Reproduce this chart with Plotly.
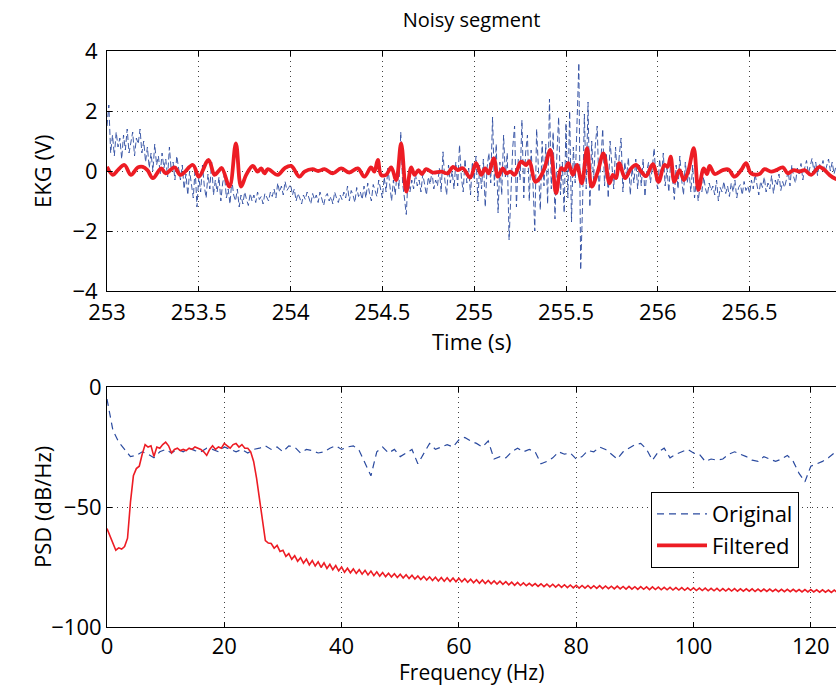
import numpy as np
import plotly.graph_objects as go

# ---------------- data: top panel (EKG, noisy segment) ----------------
# Original signal, one value every 0.01 s, one list per second
ekg_253 = [1.5, 2.2, 0.6, 1.2, 0.5, 1.3, 0.8, 1.1, 0.4, 1.2,
           0.7, 1.4, 0.6, 1.0, 1.3, 0.5, 1.1, 0.9, 1.4, 0.6,
           1.0, 0.3, 0.8, 0.1, 0.6, 0.0, 0.9, 0.2, 0.5, -0.1,
           0.6, 0.1, 0.4, -0.2, 0.8, 0.0, 0.3, -0.3, 0.5, 0.1,
           -0.3, 0.2, -0.6, -0.1, -0.8, 0.0, -0.4, -0.9, 0.1, -1.2,
           -0.2, -0.7, 0.2, -0.5, -0.9, -0.1, -0.6, 0.3, -0.8, -0.3,
           -0.7, -0.2, -1.0, -0.4, -0.1, -0.9, -0.6, -1.1, -0.3, -0.8,
           -1.0, -0.6, -1.2, -0.8, -1.1, -0.7, -0.95, -1.15, -0.75, -1.0,
           -0.8, -1.05, -0.7, -0.95, -0.85, -1.1, -0.75, -0.9, -1.0, -0.7,
           -0.85, -0.6, -0.9, -0.4, -0.7, -0.5, -0.8, -0.35, -0.65, -0.55]
ekg_254 = [-0.45, -0.8, -0.6, -1.0, -0.75, -0.9, -1.1, -0.8, -0.95, -0.7,
           -0.9, -1.1, -0.75, -0.95, -0.8, -1.05, -0.7, -0.9, -1.15, -0.85,
           -0.75, -1.0, -0.85, -1.1, -0.7, -0.9, -1.05, -0.8, -0.95, -0.7,
           -0.9, -0.5, -1.0, -0.65, -0.8, -1.05, -0.55, -0.85, -0.7, -0.95,
           -0.5, -0.9, -0.4, -0.75, -1.0, -0.45, -0.7, -0.85, -0.3, -0.6,
           -0.9, -0.2, -0.7, 0.1, -0.5, -1.0, -0.3, -0.8, 0.0, -0.6,
           1.3, -0.4, -0.9, -1.45, -0.2, -0.7, -0.3, -0.6, -0.1, -0.5,
           -0.3, -0.7, -0.1, -0.5, -0.8, -0.2, -0.45, 0.0, -0.6, -0.3,
           -0.5, 0.1, -0.7, 0.64, -0.3, -0.8, 0.2, -0.4, 0.0, -0.6,
           0.3, -0.5, 0.87, -0.2, -0.7, 0.4, -0.4, 0.1, -0.8, 0.3]
ekg_255 = [-0.3, 0.5, -1.0, 0.2, -0.6, 0.4, -1.2, 0.1, 0.6, -0.4,
           1.8, -0.5, 0.9, -1.4, 0.3, -0.8, 1.2, -0.2, 0.6, -2.3,
           -0.6, 0.8, 1.5, -1.2, 0.4, -0.3, 1.7, -0.9, 0.6, 1.2,
           -1.0, 0.7, -0.4, -2.0, 1.4, 0.2, -1.3, 1.0, -0.5, 0.9,
           -1.1, 2.4, -0.6, 1.3, -1.6, 0.5, 1.8, -0.8, 0.3, -1.4,
           1.6, -0.9, 2.0, -1.7, 0.8, -0.4, 1.5, 3.6, -3.3, -1.2,
           1.9, -0.6, 2.3, -1.2, 1.0, -0.3, 0.9, 1.5, -0.7, 0.4,
           1.4, -0.5, 0.6, -0.9, 1.0, 0.2, -0.6, 0.8, -0.3, 0.5,
           1.1, -0.7, 0.3, -0.2, 0.45, -0.8, 0.1, -0.4, 0.4, -0.6,
           0.2, -0.5, 0.4, -0.85, 0.0, 0.3, -0.4, 0.1, 0.76, -0.3]
ekg_256 = [-0.6, 0.4, -0.2, 0.6, -0.5, 0.1, -0.7, 0.3, -0.2, -0.95,
           0.2, -0.6, 0.5, -0.3, -0.8, 0.3, -0.4, 0.0, -0.7, 0.2,
           -0.9, -0.3, -1.0, -0.5, -0.7, -0.2, -0.6, -0.8, -0.4, -0.65,
           -0.5, -0.8, -0.3, -1.0, -0.55, -0.7, -0.35, -0.75, -0.5, -0.85,
           -0.4, -0.7, -0.3, -0.9, -0.55, -0.45, -0.8, -0.35, -0.65, -0.5,
           -0.75, -0.3, -0.6, -0.1, -0.5, -0.8, -0.35, -0.55, -0.2, -0.7,
           -0.4, -0.6, -0.15, -0.75, -0.3, -0.5, -0.1, -0.65, -0.35, -0.55,
           -0.3, 0.0, -0.5, 0.2, -0.2, -0.4, 0.1, -0.1, 0.25, -0.3,
           0.1, 0.35, -0.1, 0.2, 0.42, 0.0, 0.3, -0.15, 0.25, 0.1,
           0.35, -0.05, 0.2, 0.4, 0.0, 0.3, -0.1, 0.15, 0.05, -0.2]
ekg_start = 253.0
ekg_step = 0.01

# Filtered signal (time in s, value in V)
filt_t = [253.000, 253.032, 253.059, 253.095, 253.130, 253.168, 253.195, 253.220,
          253.250, 253.295, 253.320, 253.368, 253.400, 253.468, 253.500, 253.553,
          253.585, 253.605, 253.625, 253.667, 253.702, 253.730, 253.758, 253.794,
          253.820, 253.840, 253.858, 253.876, 253.930, 253.967, 254.003, 254.048,
          254.076, 254.120, 254.150, 254.185, 254.230, 254.275, 254.320, 254.366,
          254.402, 254.438, 254.456, 254.475, 254.493, 254.520, 254.548, 254.575,
          254.602, 254.630, 254.657, 254.675, 254.696, 254.715, 254.738, 254.775,
          254.820, 254.856, 254.884, 254.910, 254.938, 254.978, 255.010, 255.038,
          255.060, 255.078, 255.107, 255.129, 255.156, 255.175, 255.197, 255.220,
          255.256, 255.283, 255.301, 255.332, 255.355, 255.383, 255.415, 255.446,
          255.473, 255.492, 255.513, 255.537, 255.560, 255.586, 255.615, 255.640,
          255.673, 255.704, 255.737, 255.755, 255.772, 255.790, 255.822, 255.855,
          255.882, 255.910, 255.936, 255.973, 256.004, 256.036, 256.054, 256.070,
          256.090, 256.118, 256.142, 256.166, 256.196, 256.221, 256.250, 256.268,
          256.282, 256.310, 256.354, 256.385, 256.418, 256.454, 256.481, 256.508,
          256.554, 256.581, 256.617, 256.645, 256.681, 256.708, 256.740, 256.772,
          256.800, 256.835, 256.880, 256.908, 256.935, 256.962, 256.990]
filt_v = [0.14, -0.13, 0.03, 0.20, -0.13, 0.12, 0.14, 0.03,
          -0.24, 0.09, -0.08, 0.12, -0.13, 0.20, -0.19, 0.37,
          -0.13, -0.02, 0.10, -0.52, 0.92, -0.52, -0.13, 0.17,
          -0.02, 0.09, -0.08, 0.06, -0.13, 0.09, 0.17, -0.19,
          -0.02, 0.06, 0.00, 0.06, -0.08, 0.09, -0.05, 0.09,
          -0.19, 0.12, -0.02, 0.37, -0.13, -0.13, 0.12, -0.30,
          0.92, -0.69, 0.12, -0.13, 0.03, -0.10, 0.06, -0.05,
          -0.02, -0.08, 0.14, 0.03, 0.09, -0.22, 0.26, -0.13,
          0.09, -0.08, 0.42, -0.19, 0.09, -0.08, -0.02, -0.13,
          0.31, 0.20, 0.33, -0.36, -0.25, 0.09, 0.70, -0.74,
          0.09, 0.03, 0.26, -0.13, 0.20, -0.41, 0.76, -0.52,
          -0.02, 0.59, -0.41, -0.13, -0.24, 0.26, -0.24, 0.09,
          0.20, -0.02, -0.17, 0.23, -0.36, 0.20, 0.14, 0.48,
          -0.36, 0.03, -0.30, 0.00, 0.76, -0.63, 0.09, -0.10,
          0.17, -0.10, 0.03, 0.05, -0.19, 0.03, 0.26, -0.08,
          -0.10, 0.06, -0.02, 0.03, 0.12, -0.08, 0.03, -0.02,
          0.03, -0.13, 0.14, 0.03, -0.13, -0.24, -0.30]

time_ticks = [253, 253.5, 254, 254.5, 255, 255.5, 256, 256.5, 257]
ekg_ticks = [-4, -2, 0, 2, 4]

# ---------------- data: bottom panel (PSD) ----------------
# Original PSD, one value per 1 Hz from 0 to 125 Hz
psd_orig = [-5, -18, -23, -26, -29, -28.5, -27, -28, -29.5, -27,
            -26, -27.5, -26, -27, -25.5, -26.5, -27, -25.5, -26, -27,
            -25, -26, -27, -26, -27.5, -26, -25.5, -24.5, -26, -25,
            -27, -24.5, -25, -27.5, -26, -26.5, -27.5, -27, -25.5, -24.5,
            -26, -25, -24.5, -26.5, -32, -37, -27, -25, -27.5, -26,
            -29, -27.5, -26, -32, -28, -23.5, -26, -25, -24, -25,
            -22, -21, -22.5, -23.5, -25, -22.5, -30, -29, -29.5, -27,
            -25.5, -27, -26, -27, -32, -31, -29.5, -27, -28, -27.5,
            -30, -29, -26.5, -27, -25, -26, -28, -30, -27, -25.5,
            -24, -23.5, -26, -30.5, -27, -25.5, -29.5, -28, -27, -26,
            -27.5, -28, -31, -30, -30.5, -30, -28, -27, -28, -29,
            -30.5, -31, -29, -30, -31, -30, -28.5, -31, -36, -39.5,
            -33, -32, -31, -29.5, -27.5, -28]
psd_orig_f0 = 0.0
psd_orig_df = 1.0

# Filtered PSD, one value per 0.5 Hz: 0-27 Hz and 27.5-125 Hz
psd_filt_low = [-59, -62, -65, -68, -67, -67.5, -66.5, -63, -48, -37,
                -34, -33, -28, -24, -25, -24.5, -29, -25, -25.5, -24,
                -23, -24.5, -27.5, -26, -25.5, -26.5, -26, -26.5, -25.5, -26,
                -25, -25.5, -26, -27, -28.5, -26, -24.5, -26, -25, -25.5,
                -23.5, -24.5, -25.5, -24, -23.5, -25, -24, -25.5, -25.5, -27,
                -31, -38, -46, -56, -64]
psd_filt_high = [-65.0,
                 -65.2, -67.2, -66.0, -68.5, -68.0, -70.6, -69.4, -71.8, -70.3, -72.6,
                 -71.1, -73.4, -71.7, -74.1, -72.3, -74.6, -72.8, -75.2, -73.3, -75.6,
                 -73.9, -76.1, -74.4, -76.6, -75.0, -77.2, -75.5, -77.4, -75.8, -77.7,
                 -76.1, -78.0, -76.4, -78.3, -76.7, -78.6, -77.0, -78.8, -77.3, -79.0,
                 -77.6, -79.2, -77.8, -79.4, -78.0, -79.6, -78.2, -79.8, -78.4, -80.0,
                 -78.7, -80.2, -78.9, -80.4, -79.1, -80.6, -79.3, -80.8, -79.4, -80.9,
                 -79.5, -81.0, -79.6, -81.1, -79.7, -81.2, -79.9, -81.4, -80.1, -81.6,
                 -80.3, -81.8, -80.4, -81.9, -80.6, -82.0, -80.8, -82.1, -80.9, -82.2,
                 -81.1, -82.4, -81.3, -82.6, -81.4, -82.7, -81.6, -82.8, -81.8, -82.9,
                 -81.9, -83.1, -82.0, -83.2, -82.1, -83.3, -82.2, -83.4, -82.3, -83.5,
                 -82.4, -83.6, -82.5, -83.7, -82.6, -83.8, -82.7, -83.8, -82.7, -83.9,
                 -82.8, -83.9, -82.8, -84.0, -82.9, -84.0, -83.0, -84.1, -83.0, -84.1,
                 -83.1, -84.2, -83.1, -84.2, -83.2, -84.3, -83.2, -84.3, -83.3, -84.4,
                 -83.3, -84.4, -83.4, -84.5, -83.5, -84.5, -83.5, -84.6, -83.6, -84.6,
                 -83.6, -84.7, -83.7, -84.7, -83.7, -84.8, -83.8, -84.8, -83.8, -84.9,
                 -83.9, -84.9, -83.9, -85.0, -84.0, -85.0, -84.0, -85.0, -84.0, -85.1,
                 -84.1, -85.1, -84.1, -85.1, -84.1, -85.2, -84.2, -85.2, -84.2, -85.2,
                 -84.2, -85.2, -84.3, -85.3, -84.3, -85.3, -84.3, -85.3, -84.3, -85.3,
                 -84.4, -85.4, -84.4, -85.4, -84.4, -85.4, -84.5, -85.5, -84.5, -85.5,
                 -84.6, -85.6, -84.6, -85.6, -84.7]
psd_filt_low_f0 = 0.0
psd_filt_high_f0 = 27.5
psd_filt_df = 0.5

freq_ticks = [0, 20, 40, 60, 80, 100, 120]
psd_ticks = [-100, -50, 0]

# ---------------- build ----------------
ekg = ekg_253 + ekg_254 + ekg_255 + ekg_256
ekg_t = ekg_start + ekg_step * np.arange(len(ekg))
f_orig = psd_orig_f0 + psd_orig_df * np.arange(len(psd_orig))
f_filt = np.concatenate([psd_filt_low_f0 + psd_filt_df * np.arange(len(psd_filt_low)),
                         psd_filt_high_f0 + psd_filt_df * np.arange(len(psd_filt_high))])
p_filt = psd_filt_low + psd_filt_high

BLUE = "#2a4a9f"
RED = "#ed1c24"
FONT = "Open Sans, Noto Sans, sans-serif"
FS = 22

fig = go.Figure()
fig.add_trace(go.Scatter(x=ekg_t, y=ekg, mode="lines", name="Original",
                         line=dict(color=BLUE, width=0.9, dash="6px,3px"),
                         showlegend=False, xaxis="x", yaxis="y"))
fig.add_trace(go.Scatter(x=filt_t, y=filt_v, mode="lines", name="Filtered",
                         line=dict(color=RED, width=3.8, shape="spline", smoothing=1.0),
                         showlegend=False, xaxis="x", yaxis="y"))
fig.add_trace(go.Scatter(x=f_orig, y=psd_orig, mode="lines", name="Original",
                         line=dict(color=BLUE, width=1.2, dash="7px,5px"),
                         showlegend=False, xaxis="x2", yaxis="y2"))
fig.add_trace(go.Scatter(x=f_filt, y=p_filt, mode="lines", name="Filtered",
                         line=dict(color=RED, width=1.6),
                         showlegend=False, xaxis="x2", yaxis="y2"))
# legend entries
fig.add_trace(go.Scatter(x=[None], y=[None], mode="lines", name="Original",
                         line=dict(color=BLUE, width=1.2, dash="7px,5px"),
                         xaxis="x2", yaxis="y2"))
fig.add_trace(go.Scatter(x=[None], y=[None], mode="lines", name="Filtered",
                         line=dict(color=RED, width=3.6),
                         xaxis="x2", yaxis="y2"))

W, H = 836, 687
L = 107
plot_w = W - L

axis_common = dict(showline=True, linecolor="black", linewidth=1,
                   ticks="inside", ticklen=5, tickcolor="black",
                   showgrid=True, gridcolor="rgba(0,0,0,0.75)", gridwidth=1,
                   griddash="1px,4px", zeroline=False, automargin=False,
                   tickfont=dict(family=FONT, size=FS, color="black"))

top_dom = [1 - 291 / H, 1 - 51 / H]
bot_dom = [1 - 627 / H, 1 - 387 / H]

fig.update_layout(
    width=W, height=H,
    margin=dict(l=L, r=0, t=0, b=0, pad=0, autoexpand=False),
    paper_bgcolor="white", plot_bgcolor="white",
    font=dict(family=FONT, size=FS, color="black"),
    title=dict(text="Noisy segment", x=0.5, xref="paper", y=1 - 20 / H,
               yanchor="middle", xanchor="center", automargin=False,
               font=dict(family=FONT, size=20, color="black")),
    xaxis=dict(domain=[0, 1], anchor="y", range=[253, 253 + plot_w / 183.6],
               tickvals=time_ticks, ticktext=[f"{v:g}" for v in time_ticks],
               mirror="ticks", ticklabelstandoff=2, **axis_common),
    yaxis=dict(domain=top_dom, anchor="x", range=[-4, 4],
               tickvals=ekg_ticks, mirror=False, ticklabelstandoff=4, **axis_common),
    xaxis2=dict(domain=[0, 1], anchor="y2", range=[0, plot_w / 5.865],
                tickvals=freq_ticks, mirror="ticks", **axis_common),
    yaxis2=dict(domain=bot_dom, anchor="x2", range=[-100, 0],
                tickvals=psd_ticks, mirror=False, **axis_common),
    legend=dict(x=(651 - L) / plot_w, y=1 - 492 / H, xanchor="left", yanchor="top",
                bgcolor="white", bordercolor="black", borderwidth=1,
                font=dict(family=FONT, size=FS, color="black"),
                itemwidth=50, tracegroupgap=0),
    annotations=[
        dict(text="EKG (V)", xref="paper", yref="paper", x=(42 - L) / plot_w,
             y=1 - 171 / H, textangle=-90, showarrow=False,
             xanchor="center", yanchor="middle", font=dict(family=FONT, size=FS)),
        dict(text="PSD (dB/Hz)", xref="paper", yref="paper", x=(42 - L) / plot_w,
             y=1 - 507 / H, textangle=-90, showarrow=False,
             xanchor="center", yanchor="middle", font=dict(family=FONT, size=FS)),
        dict(text="Time (s)", xref="paper", yref="paper", x=0.5, y=1 - 341 / H,
             showarrow=False, xanchor="center", yanchor="middle", borderpad=0,
             font=dict(family=FONT, size=FS)),
        dict(text="Frequency (Hz)", xref="paper", yref="paper", x=0.5, y=0,
             showarrow=False, xanchor="center", yanchor="bottom", borderpad=0,
             font=dict(family=FONT, size=21)),
    ],
    showlegend=True,
)

fig.write_html("out.html",
               config={"displayModeBar": False},
               post_script="document.body.style.margin='0';document.body.style.padding='0';"
                           "document.body.style.overflow='hidden';")
